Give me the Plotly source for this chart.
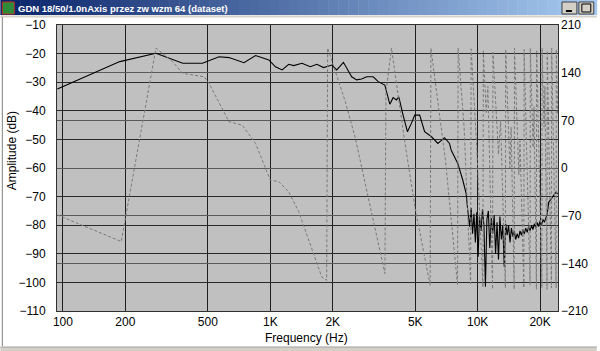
import plotly.graph_objects as go

# ---------------- data ----------------
amp_freq = [94, 188, 281, 378, 471, 566, 632, 746, 849, 984, 1059, 1140,
            1227, 1296, 1421, 1558, 1677, 1806, 1980, 2092, 2252, 2469, 2609,
            2756, 2913, 3136, 3314, 3567, 3770, 3911, 4058, 4165, 4368, 4583,
            4790, 4970, 5252, 5548, 5973, 6430, 6921, 7313, 7449, 8018, 8474,
            8794, 8954, 9150, 9300, 9450, 9600, 9750, 9900, 10050, 10200, 10380,
            10550, 10720, 10900, 11080, 11260, 11440, 11630, 11820, 12010, 12200,
            12400, 12600, 12800, 13010, 13220, 13430, 13650, 13870, 14090, 14320,
            14550, 14780, 15020, 15260, 15500, 15750, 16000, 16260, 16520, 16790,
            17060, 17330, 17610, 17890, 18180, 18470, 18770, 19070, 19380, 19690,
            20000, 20320, 20650, 20980, 21320, 21660, 22000, 22400, 22800, 23300,
            23800, 24300]
amp_db = [-32.4, -22.8, -19.9, -23.4, -23.4, -21.1, -21.4, -23.2, -20.7, -22.2,
          -24.6, -25.7, -23.75, -24.2, -23.4, -24.6, -23.75, -24.9, -24.0, -25.7,
          -23.05, -28.1, -29.2, -28.9, -28.1, -28.1, -29.8, -31.0, -37.7, -35.4,
          -36.2, -35.1, -41.5, -47.3, -44.4, -41.5, -41.5, -47.3, -49.0, -51.4,
          -49.4, -51.4, -53.7, -58.4, -64.2, -68.9, -74.7, -80.5, -74.0, -83.0,
          -76.0, -86.0, -75.5, -91.0, -77.0, -82.0, -74.5, -80.0, -101.5, -78.0,
          -75.0, -88.0, -77.5, -83.0, -76.5, -90.0, -79.0, -92.0, -77.0, -85.0,
          -80.0, -94.5, -79.5, -83.5, -80.0, -86.0, -81.0, -84.0, -82.0, -85.0,
          -83.0, -84.5, -82.0, -83.5, -81.5, -83.0, -81.0, -82.5, -80.5, -82.0,
          -80.0, -81.5, -79.5, -81.0, -79.0, -80.5, -78.5, -80.0, -78.0, -79.0,
          -77.5, -76.0, -72.0, -71.0, -70.5, -69.5, -68.5, -69.0]

ph_freq = [94, 191, 281, 338, 378, 480, 507, 632, 732, 849, 1000, 1098, 1227,
           1371, 1770, 1870, 1890, 2296, 2565, 3570, 3610, 3840, 4447, 5000,
           5900, 5950, 7000, 8000, 8050, 8600, 9250, 9300, 9900, 10200, 10600,
           10650, 11000, 11200, 11800, 11850, 12600, 12900, 13600, 13650, 14300,
           14500, 15000, 15050, 15800, 16000, 16700, 16750, 17300, 17900, 17950,
           18500, 18700, 19200, 19250, 19800, 20400, 20450, 20900, 21100, 21600,
           21650, 22200, 22700, 22750, 23300, 23900, 23950, 24300]
ph_deg = [-69, -108, 176, 156, 139, 134, 124, 68, 63, 36, -18, -20, -35,
          -64, -160, -165, 176, 98, 45, -155, 110, 176, 39, -60,
          -172, 176, 10, -172, 176, 60, -170, 175, 30, -60, -175,
          172, 80, 120, -178, 170, 20, 70, -176, 174, 0,
          60, -178, 176, -10, 40, -176, 174, 20, -172, 176,
          30, 90, -178, 172, -20, -176, 176, 60, 120, -178,
          172, -40, -176, 176, -20, -176, 174, 80]

x_tickvals = [100, 200, 500, 1000, 2000, 5000, 10000, 20000]
x_ticktext = ["100", "200", "500", "1K", "2K", "5K", "10K", "20K"]
y_tickvals = [-110, -100, -90, -80, -70, -60, -50, -40, -30, -20, -10]
y2_tickvals = [-210, -140, -70, 0, 70, 140, 210]

title_text = "GDN 18/50/1.0nAxis przez zw wzm 64 (dataset)"

# ---------------- figure ----------------
W, H = 600, 351
L, R, T, B = 57, 39, 25, 40
PW, PH = W - L - R, H - T - B


def px(x):
    return (x - L) / PW


def py(y):
    return (H - B - y) / PH


FONT = "Liberation Sans"

fig = go.Figure()
fig.add_trace(go.Scatter(x=ph_freq, y=ph_deg, yaxis="y2", mode="lines",
                         line=dict(color="#7a7a7a", width=1, dash="3px,2px"),
                         showlegend=False, hoverinfo="skip"))
fig.add_trace(go.Scatter(x=amp_freq, y=amp_db, mode="lines",
                         line=dict(color="#000000", width=1.1),
                         showlegend=False))

fig.update_layout(
    width=W, height=H, margin=dict(l=L, r=R, t=T, b=B),
    paper_bgcolor="white", plot_bgcolor="#c0c0c0",
    font=dict(family=FONT, size=12, color="black"),
    xaxis=dict(type="log", range=[1.9713, 4.3874], tickvals=x_tickvals,
               ticktext=x_ticktext, showgrid=True, gridcolor="#1e1e1e",
               gridwidth=1, zeroline=False, ticks="", showline=True,
               linecolor="#303030", mirror=True, ticklabelstandoff=0),
    yaxis=dict(range=[-110, -10], tickvals=y_tickvals, showgrid=True,
               gridcolor="#2a2a2a", zeroline=False, ticks="", showline=True,
               linecolor="#303030", mirror=True, ticklabelstandoff=8),
    yaxis2=dict(range=[-210, 210], tickvals=y2_tickvals, overlaying="y",
                side="right", showgrid=True, gridcolor="#5a5a5a",
                zeroline=False, ticks="", ticklabelstandoff=2),
)

# axis titles
fig.add_annotation(text="Amplitude (dB)", xref="paper", yref="paper",
                   x=px(12), y=py(151), textangle=-90, showarrow=False,
                   font=dict(size=12, family=FONT), xanchor="center", yanchor="middle")
fig.add_annotation(text="Frequency (Hz)", xref="paper", yref="paper",
                   x=px(308), y=py(338), showarrow=False,
                   font=dict(size=12, family=FONT), xanchor="center", yanchor="middle")

# window chrome: title bar gradient
c0 = (10, 36, 106)
c1 = (166, 202, 240)
n = 60
for i in range(n):
    t = i / (n - 1)
    col = "rgb(%d,%d,%d)" % tuple(int(c0[k] + (c1[k] - c0[k]) * t) for k in range(3))
    fig.add_shape(type="rect", xref="paper", yref="paper",
                  x0=px(i * W / n), x1=px((i + 1) * W / n + 0.5),
                  y0=py(15), y1=py(0), fillcolor=col, line_width=0)
fig.add_shape(type="line", xref="paper", yref="paper", x0=px(0), x1=px(600),
              y0=py(16.5), y1=py(16.5), line=dict(color="#d4d0c8", width=2))
# icon
fig.add_shape(type="rect", xref="paper", yref="paper", x0=px(2), x1=px(14),
              y0=py(14), y1=py(2), fillcolor="#2e8b3a", line=dict(color="#c03020", width=1))
# buttons
for bx in (565, 582):
    fig.add_shape(type="rect", xref="paper", yref="paper", x0=px(bx), x1=px(bx + 15),
                  y0=py(14), y1=py(2), fillcolor="#d4d0c8",
                  line=dict(color="#404040", width=1))
fig.add_shape(type="line", xref="paper", yref="paper", x0=px(569), x1=px(575),
              y0=py(11), y1=py(11), line=dict(color="black", width=2))
fig.add_shape(type="rect", xref="paper", yref="paper", x0=px(585), x1=px(594),
              y0=py(12), y1=py(4), line=dict(color="black", width=1))
fig.add_annotation(text="<b>" + title_text + "</b>", xref="paper", yref="paper",
                   x=px(16), y=py(8), xanchor="left", yanchor="middle", showarrow=False,
                   font=dict(color="white", size=9.5, family=FONT))
# window frame
fig.add_shape(type="line", xref="paper", yref="paper", x0=px(2), x1=px(2),
              y0=py(346), y1=py(17), line=dict(color="#808080", width=1))
fig.add_shape(type="rect", xref="paper", yref="paper", x0=px(0), x1=px(600),
              y0=py(351), y1=py(347), fillcolor="#d4d0c8", line_width=0)
fig.add_shape(type="line", xref="paper", yref="paper", x0=px(0), x1=px(600),
              y0=py(347), y1=py(347), line=dict(color="#a0a0a0", width=1))

fig.write_html("out.html", config={"displayModeBar": False},
               post_script="document.body.style.margin='0';document.body.style.padding='0';")
